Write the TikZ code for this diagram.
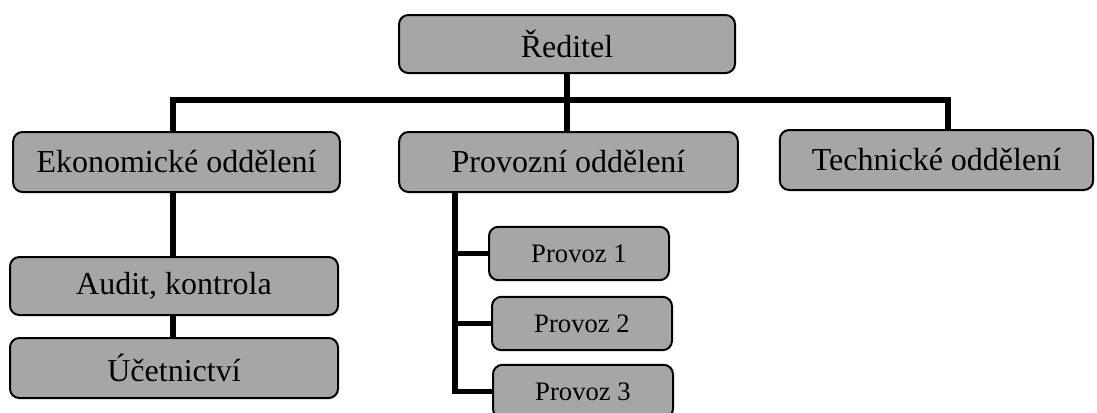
\documentclass[tikz,border=0pt]{standalone}
\usepackage{fontspec}
\setmainfont{Liberation Serif}
\usepackage{tikz}
\usetikzlibrary{backgrounds}

\tikzset{
	unitbox/.style={fill=gray!70, draw=black, line width=1.5pt, rounded corners=7pt, inner sep=0pt,
		font=\fontsize{24}{28}\selectfont},
	provozbox/.style={unitbox, minimum width=135pt, minimum height=40pt, font=\fontsize{20}{24}\selectfont},
	link/.style={line width=3.8pt, line cap=rect}
}

\begin{document}
\begin{tikzpicture}[x=0.75pt, y=-0.75pt]
		\useasboundingbox (0,0) rectangle (1097,412);

		\node[unitbox, minimum width=252pt, minimum height=43.5pt] (dir) at (567,44) {Ředitel};

		\node[unitbox, minimum width=245pt, minimum height=45pt] (ekon) at (176.5,162) {Ekonomické oddělení};
		\node[unitbox, minimum width=254pt, minimum height=45pt] (prov) at (568.5,162) {Provozní oddělení};
		\node[unitbox, minimum width=235pt, minimum height=45pt] (tech) at (936.5,160) {Technické oddělení};

		\node[unitbox, minimum width=246pt, minimum height=43.5pt] (audit) at (174,286) {Audit, kontrola};
		\node[unitbox, minimum width=246pt, minimum height=45pt] (ucet) at (174,368) {Účetnictví};

		\node[provozbox] (p1) at (579,253.5) {Provoz 1};
		\node[provozbox] (p2) at (582,323.5) {Provoz 2};
		\node[provozbox] (p3) at (583,391.5) {Provoz 3};

		\coordinate (busL) at (173,100);
		\coordinate (busR) at (948,100);
		\coordinate (trunk) at (455,192);

		\begin{scope}[on background layer]
		% reditel a oddeleni
		\draw[link] (dir.south) -- (dir.south |- prov.north);
		\draw[link] (busL |- ekon.north) -- (busL) -- (busR) -- (busR |- tech.north);

		% ekonomicke
		\draw[link] (busL |- ekon.south) -- (busL |- audit.north);
		\draw[link] (busL |- audit.south) -- (busL |- ucet.north);

		% provozy
		\draw[link] (trunk) |- (p3.west);
		\draw[link] (trunk |- p1.west) -- (p1.west);
		\draw[link] (trunk |- p2.west) -- (p2.west);
		\end{scope}
	\end{tikzpicture}
\end{document}
